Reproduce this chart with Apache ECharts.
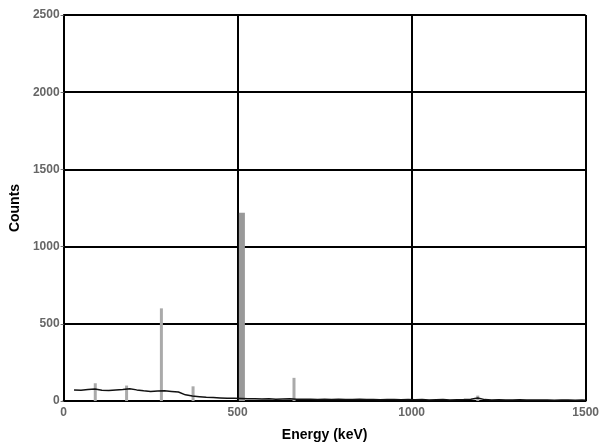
<!DOCTYPE html>
<html>
<head>
<meta charset="utf-8">
<script src="https://cdn.jsdelivr.net/npm/echarts@6/dist/echarts.min.js"></script>
<style>
  html, body { margin: 0; padding: 0; background: #fff; }
  #chart { width: 602px; height: 447px; }
</style>
</head>
<body>
<div id="chart"></div>
<script>
// continuum (keV, counts)
var contEnergy = [30, 50, 70, 90, 110, 130, 150, 170, 190, 210, 230, 250, 270, 290, 310, 330, 350, 370, 390, 410,
  430, 450, 470, 490, 510, 530, 550, 570, 590, 610, 630, 650, 670, 690, 710, 730, 750, 770, 790, 810,
  830, 850, 870, 890, 910, 930, 950, 970, 990, 1010, 1030, 1050, 1070, 1090, 1110, 1130, 1150, 1170, 1190, 1210,
  1230, 1250, 1270, 1290, 1310, 1330, 1350, 1370, 1390, 1410, 1430, 1450, 1470, 1490, 1500];
var contCounts = [72, 70, 74, 78, 70, 68, 72, 75, 80, 72, 66, 62, 64, 66, 62, 58, 40, 32, 28, 24,
  22, 20, 18, 18, 16, 14, 15, 13, 14, 12, 13, 14, 12, 11, 12, 10, 11, 10, 12, 9,
  10, 11, 9, 10, 8, 9, 10, 8, 9, 8, 9, 7, 8, 9, 7, 8, 9, 12, 20, 9,
  7, 8, 6, 7, 8, 6, 7, 6, 7, 5, 6, 7, 5, 6, 5];

// peaks
var peakEnergy = [91, 181, 281, 372, 662, 1190];
var peakCounts = [115, 100, 600, 95, 150, 35];
var annEnergy = [508];
var annCounts = [1220];

var xTicks = [0, 500, 1000, 1500];
var yTicks = [0, 500, 1000, 1500, 2000, 2500];

function pairs(xs, ys) {
  return xs.map(function (x, i) { return [x, ys[i]]; });
}

var labelStyle = { fontFamily: 'Liberation Sans', fontWeight: 'bold', fontSize: 12, color: '#666' };

var chart = echarts.init(document.getElementById('chart'));
chart.setOption({
  animation: false,
  grid: { left: 61, right: 12, top: 15, bottom: 44 },
  xAxis: {
    type: 'value',
    min: xTicks[0],
    max: xTicks[xTicks.length - 1],
    interval: 500,
    name: 'Energy (keV)',
    nameLocation: 'middle',
    nameGap: 27,
    nameTextStyle: { fontFamily: 'Liberation Sans', fontWeight: 'bold', fontSize: 14, color: '#000' },
    axisLine: { lineStyle: { color: '#000', width: 2 } },
    axisTick: { show: false },
    axisLabel: Object.assign({ margin: 6, formatter: function (v) { return String(v); } }, labelStyle),
    splitLine: { show: true, lineStyle: { color: '#000', width: 2 } }
  },
  yAxis: {
    type: 'value',
    min: yTicks[0],
    max: yTicks[yTicks.length - 1],
    interval: 500,
    name: 'Counts',
    nameLocation: 'middle',
    nameGap: 38,
    nameTextStyle: { fontFamily: 'Liberation Sans', fontWeight: 'bold', fontSize: 14, color: '#000' },
    axisLine: { show: true, lineStyle: { color: '#000', width: 2 } },
    axisTick: { show: true, length: 3, lineStyle: { color: '#777' } },
    axisLabel: Object.assign({ margin: 4, formatter: function (v) { return String(v); } }, labelStyle),
    splitLine: { show: true, lineStyle: { color: '#000', width: 2 } }
  },
  series: [
    {
      type: 'bar',
      data: pairs(annEnergy, annCounts),
      barWidth: 6,
      itemStyle: { color: '#999' },
      z: 3
    },
    {
      type: 'bar',
      data: pairs(peakEnergy, peakCounts),
      barWidth: 3,
      barGap: '-100%',
      itemStyle: { color: '#aaa' },
      z: 3
    },
    {
      type: 'line',
      data: pairs(contEnergy, contCounts),
      symbol: 'none',
      lineStyle: { color: '#111', width: 1.5 },
      z: 4
    }
  ]
});
</script>
</body>
</html>
